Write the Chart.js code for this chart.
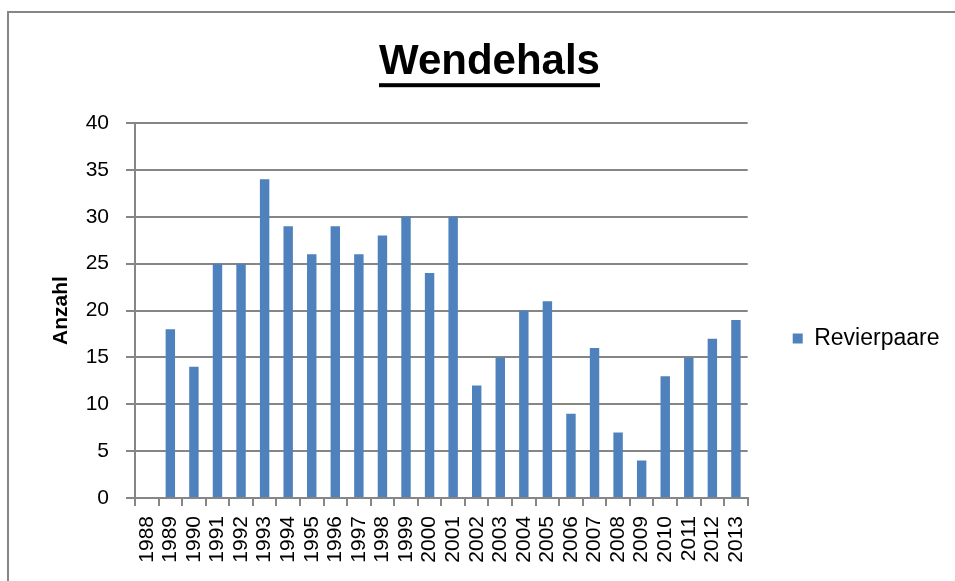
<!DOCTYPE html>
<html>
<head>
<meta charset="utf-8">
<script src="https://cdn.jsdelivr.net/npm/chart.js@4"></script>
<style>
    body { margin: 0; background: #fff; }
    #wrap { position: relative; width: 955px; height: 581px; }
    #frame {
        position: absolute; left: 7px; top: 11px; width: 960px; height: 600px;
        border-left: 2px solid #868686; border-top: 2px solid #868686;
        pointer-events: none;
    }
</style>
</head>
<body>
<div id="wrap">
    <canvas id="wendehalsChart" width="955" height="581"></canvas>
    <div id="frame"></div>
</div>
<script>
    // --- Daten ---
    const years = ['1988', '1989', '1990', '1991', '1992', '1993', '1994', '1995', '1996',
        '1997', '1998', '1999', '2000', '2001', '2002', '2003', '2004', '2005', '2006',
        '2007', '2008', '2009', '2010', '2011', '2012', '2013'];
    const revierpaare = [null, 18, 14, 25, 25, 34, 29, 26, 29, 26, 28, 30, 24, 30,
        12, 15, 20, 21, 9, 16, 7, 4, 13, 15, 17, 19];
    const yTicks = [0, 5, 10, 15, 20, 25, 30, 35, 40];

    const FONT = "'Liberation Sans', Arial, sans-serif";
    const GRID = '#868686';

    // Titel unterstreichen
    const underlineTitle = {
        id: 'underlineTitle',
        afterDraw(chart) {
            const tb = chart.titleBlock;
            if (!tb) return;
            const ctx = chart.ctx;
            const opts = chart.options.plugins.title;
            ctx.save();
            ctx.font = `bold ${opts.font.size}px ${FONT}`;
            const w = ctx.measureText(opts.text).width;
            const cx = (tb.left + tb.right) / 2;
            const cy = tb.top + opts.padding.top + opts.font.size * 0.6;
            ctx.fillStyle = '#000';
            ctx.fillRect(cx - w / 2, cy + 21, w, 4);
            ctx.restore();
        }
    };

    const ctx = document.getElementById('wendehalsChart').getContext('2d');
    new Chart(ctx, {
        type: 'bar',
        data: {
            labels: years,
            datasets: [{
                label: 'Revierpaare',
                data: revierpaare,
                backgroundColor: '#4F81BD',
                borderWidth: 0,
                barPercentage: 0.4,
                categoryPercentage: 1.0
            }]
        },
        options: {
            responsive: false,
            animation: false,
            layout: { padding: { left: 29.5, right: 5.5, top: 0, bottom: 0 } },
            plugins: {
                title: {
                    display: true,
                    text: 'Wendehals',
                    color: '#000',
                    font: { size: 42, weight: 'bold', family: FONT },
                    padding: { top: 37, bottom: 35.6 }
                },
                legend: {
                    position: 'right',
                    title: {
                        display: true,
                        text: '',
                        font: { size: 10, family: FONT },
                        padding: { top: 84, bottom: 0 }
                    },
                    labels: {
                        color: '#000',
                        font: { size: 23, family: FONT },
                        boxWidth: 10,
                        boxHeight: 10,
                        padding: 10
                    }
                },
                tooltip: { enabled: false }
            },
            scales: {
                x: {
                    grid: { offset: true, drawOnChartArea: false, color: GRID, tickLength: 8, lineWidth: 2 },
                    border: { color: GRID, width: 2 },
                    ticks: {
                        color: '#000',
                        font: { size: 21, family: FONT },
                        minRotation: 90,
                        maxRotation: 90,
                        autoSkip: false,
                        padding: 10
                    },
                    afterFit(scale) { scale.height = 83; }
                },
                y: {
                    min: 0,
                    max: 40,
                    afterBuildTicks(scale) { scale.ticks = yTicks.map(v => ({ value: v })); },
                    grid: { color: GRID, tickLength: 9, lineWidth: 2 },
                    border: { color: GRID, width: 2 },
                    ticks: {
                        color: '#000',
                        font: { size: 21, family: FONT },
                        padding: 17
                    },
                    title: {
                        display: true,
                        text: 'Anzahl',
                        color: '#000',
                        font: { size: 21, weight: 'bold', family: FONT },
                        padding: { top: 19.5, bottom: 0 }
                    },
                    afterFit(scale) { scale.width = 105.5; }
                },
                // unsichtbarer Abstand zwischen Zeichenfläche und Legende
                gap: {
                    position: 'right',
                    display: false,
                    afterFit(scale) { scale.width = 35; }
                }
            }
        },
        plugins: [underlineTitle]
    });
</script>
</body>
</html>
